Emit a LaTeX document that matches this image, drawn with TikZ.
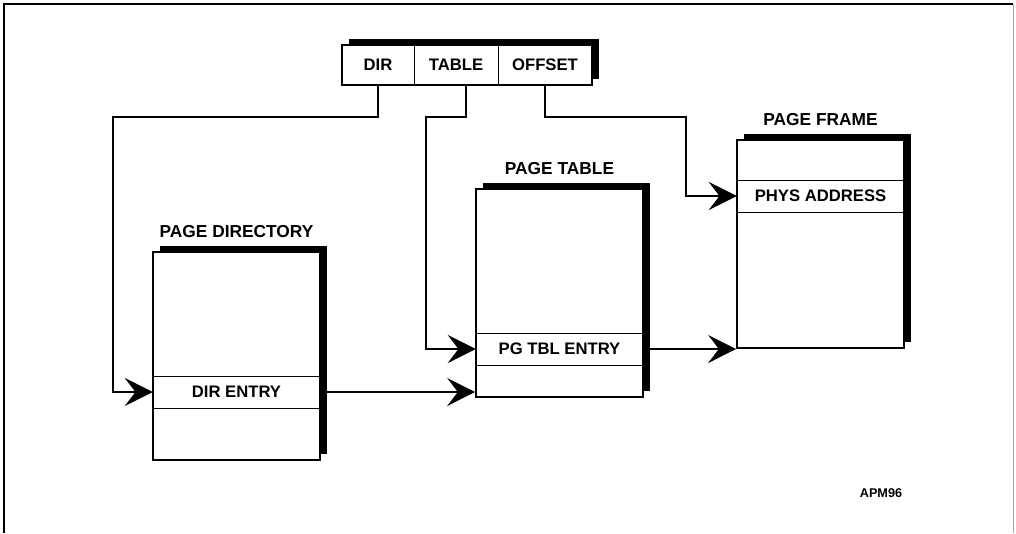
\documentclass[tikz,border=0pt]{standalone}
\usepackage{fontspec}
\setmainfont{Liberation Sans}
\usepackage{tikz}
\usetikzlibrary{positioning, arrows.meta, shadows, fit, backgrounds}

\begin{document}
\begin{tikzpicture}[
    x=0.75pt, y=-0.75pt,
    page/.style={rectangle, draw, line width=1.5pt, fill=white, minimum width=125pt, minimum height=156pt, inner sep=0pt,
        drop shadow={shadow xshift=5pt, shadow yshift=4.5pt, fill=black, opacity=1}},
    entry/.style={rectangle, draw, line width=0.6pt, minimum width=125pt, minimum height=24pt, font=\bfseries\fontsize{12.5}{14}\selectfont},
    field/.style={rectangle, draw, line width=0.6pt, minimum height=30pt, inner sep=0pt, outer sep=0pt, font=\bfseries\fontsize{12.5}{14}\selectfont},
    title/.style={inner sep=0pt, font=\bfseries\fontsize{13}{15}\selectfont},
    conn/.style={-{Stealth[length=21pt, width=21pt, inset=8pt]}, line width=1.5pt}
]
\useasboundingbox (0,0) rectangle (1016,533);

% frame
\draw[line width=1.2pt] (4,533) |- (1013,4);
\draw[black!35, line width=0.4pt] (1013,4) -- (1013,533);

% linear address
\node[field, minimum width=54pt] (dir) at (378,65) {DIR};
\node[field, minimum width=63pt, right=0pt of dir] (tbl) {TABLE};
\node[field, minimum width=70.5pt, right=0pt of tbl] (off) {OFFSET};
\begin{scope}[on background layer]
\node[fit=(dir)(off), inner sep=0pt, draw, line width=1.5pt, fill=white,
    drop shadow={shadow xshift=5pt, shadow yshift=4.5pt, fill=black, opacity=1}] (addr) {};
\end{scope}

% tables
\node[page] (pd) at (236.5,356) {};
\node[page] (pt) at (559.5,293) {};
\node[page] (pf) at (820.5,244) {};

\node[entry] (dirent) at (236.5,392) {DIR ENTRY};
\node[entry] (pte) at (559.5,349) {PG TBL ENTRY};
\node[entry] (phys) at (820.5,196) {PHYS ADDRESS};

\node[title, above=10pt of pd] (pdlabel) {PAGE DIRECTORY};
\node[title, above=10pt of pt] (ptlabel) {PAGE TABLE};
\node[title, above=10pt of pf] (pflabel) {PAGE FRAME};

\node[inner sep=0pt, font=\bfseries\fontsize{9.5}{11}\selectfont] (fig) at (881,493) {APM96};

% connectors
\coordinate (dirbend) at (113,117);
\coordinate (tblbend) at (426,117);
\coordinate (offbend) at (686,117);

\draw[conn] (dir.south) |- (dirbend) |- (dirent.west);
\draw[conn] ([xshift=7.5pt]tbl.south) |- (tblbend) |- (pte.west);
\draw[conn] (off.south) |- (offbend) |- (phys.west);
\draw[conn] (dirent.east) -- (dirent.east -| pt.west);
\draw[conn] (pte.east) -- (pte.east -| pf.west);

\end{tikzpicture}
\end{document}
